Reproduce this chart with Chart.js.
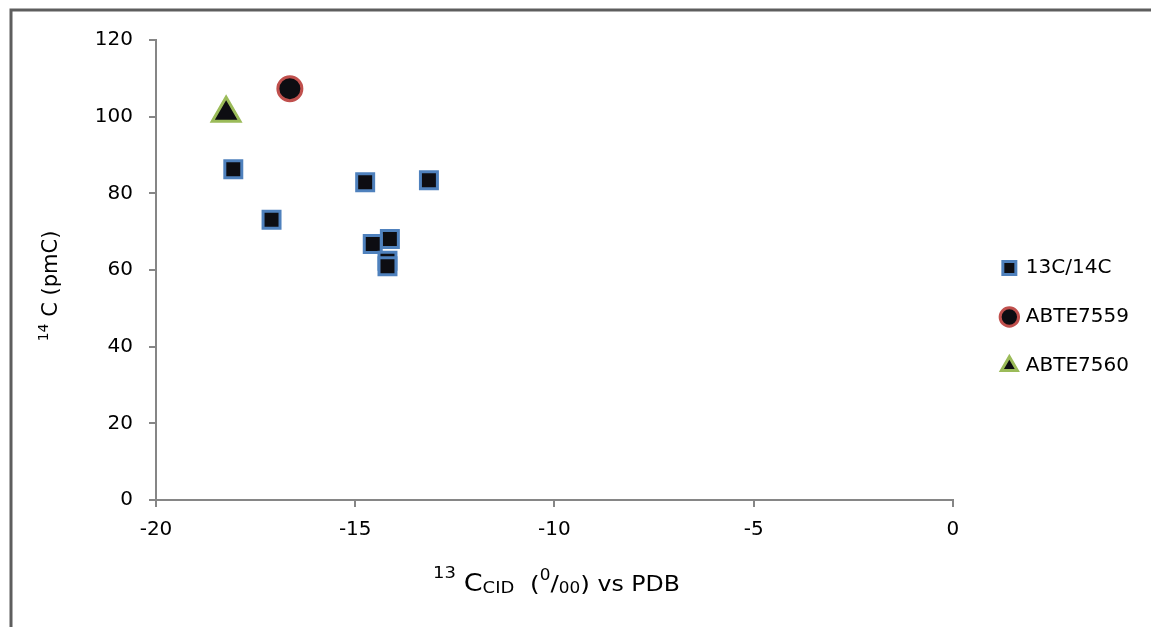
<!DOCTYPE html>
<html>
<head>
<meta charset="utf-8">
<script src="https://cdn.jsdelivr.net/npm/chart.js@4.4.1/dist/chart.umd.min.js"></script>
<style>
html, body { margin: 0; padding: 0; background: #fff; }
#wrap { position: relative; width: 1151px; height: 627px; }
</style>
</head>
<body>
<div id="wrap"><canvas id="myChart" width="1151" height="627"></canvas></div>
<script>
// series names (legend)
var seriesNames = ['13C/14C', 'ABTE7559', 'ABTE7560'];

// 13C / 14C samples (x = d13C permil, y = 14C pmC)
var sampleX = [-18.06, -17.10, -14.75, -13.15, -14.13, -14.56, -14.19, -14.19];
var sampleY = [86.3, 73.1, 82.9, 83.4, 68.1, 66.8, 62.4, 61.0];

// single wells
var abte7559X = [-16.64];
var abte7559Y = [107.3];
var abte7560X = [-18.24];
var abte7560Y = [100.9];

// axis ranges / ticks
var xTicks = [-20, -15, -10, -5, 0];
var yTicks = [0, 20, 40, 60, 80, 100, 120];

var fontFam = 'DejaVu Sans';
var axisGray = '#868686';

function toPoints(xs, ys) {
    var pts = [];
    for (var i = 0; i < xs.length; i++) {
        pts.push({x: xs[i], y: ys[i]});
    }
    return pts;
}

// draws a run of text pieces [text, size, dy] centred on 0, stretched to fit `want` px
function drawRich(ctx, parts, want) {
    var total = 0;
    parts.forEach(function(p) {
        ctx.font = p[1] + 'px "' + fontFam + '"';
        p.w = ctx.measureText(p[0]).width;
        total += p.w;
    });
    var sx = want ? want / total : 1;
    ctx.scale(sx, 1);
    var x = -total / 2;
    ctx.textAlign = 'left';
    ctx.textBaseline = 'alphabetic';
    parts.forEach(function(p) {
        ctx.font = p[1] + 'px "' + fontFam + '"';
        ctx.fillText(p[0], x, p[2]);
        x += p.w;
    });
}

var framePlugin = {
    id: 'frame',
    beforeDraw: function(chart) {
        var ctx = chart.ctx;
        ctx.save();
        ctx.fillStyle = '#fff';
        ctx.fillRect(0, 0, chart.width, chart.height);
        ctx.strokeStyle = '#5e5e5e';
        ctx.lineWidth = 3;
        ctx.beginPath();
        ctx.moveTo(11, chart.height);
        ctx.lineTo(11, 10);
        ctx.lineTo(chart.width, 10);
        ctx.stroke();
        ctx.restore();
    },
    afterDraw: function(chart) {
        var ctx = chart.ctx;
        var area = chart.chartArea;
        ctx.fillStyle = '#000';
        // x axis title
        ctx.save();
        ctx.translate((area.left + area.right) / 2 + 2, 591);
        drawRich(ctx, [
            ['13', 16, -13],
            [' ', 22, 0],
            ['C', 24, 0],
            ['CID', 16, 2],
            ['  (', 22, 0],
            ['0', 15, -11],
            ['/', 22, 0],
            ['00', 15, 2],
            [')', 22, 0],
            [' vs PDB', 21, 0]
        ], 247);
        ctx.restore();
        // y axis title
        ctx.save();
        ctx.translate(57, 286);
        ctx.rotate(-Math.PI / 2);
        drawRich(ctx, [
            ['14', 14, -9],
            [' C (pmC)', 21, 0]
        ], 0);
        ctx.restore();
    }
};

ctx = document.getElementById('myChart').getContext('2d');
chart = new Chart(ctx, {
    type: 'scatter',
    data: {
        datasets: [{
            label: seriesNames[0],
            data: toPoints(sampleX, sampleY),
            pointStyle: 'rect',
            pointRadius: 12,
            pointHoverRadius: 12,
            backgroundColor: '#0d0d12',
            borderColor: '#4f81bd',
            borderWidth: 3
        }, {
            label: seriesNames[1],
            data: toPoints(abte7559X, abte7559Y),
            pointStyle: 'circle',
            pointRadius: 12,
            pointHoverRadius: 12,
            backgroundColor: '#0d0d12',
            borderColor: '#c0504d',
            borderWidth: 3
        }, {
            label: seriesNames[2],
            data: toPoints(abte7560X, abte7560Y),
            pointStyle: 'triangle',
            pointRadius: 16,
            pointHoverRadius: 16,
            backgroundColor: '#0d0d12',
            borderColor: '#9bbb59',
            borderWidth: 3
        }]
    },
    options: {
        responsive: false,
        animation: false,
        devicePixelRatio: 1,
        layout: {padding: {left: 0, top: 40, right: 12, bottom: 33}},
        plugins: {
            tooltip: {enabled: false},
            legend: {
                position: 'right',
                labels: {
                    usePointStyle: true,
                    boxWidth: 13,
                    boxHeight: 13,
                    padding: 29,
                    color: '#000',
                    font: {family: fontFam, size: 20}
                }
            }
        },
        scales: {
            x: {
                type: 'linear',
                min: xTicks[0],
                max: xTicks[xTicks.length - 1],
                afterBuildTicks: function(scale) {
                    scale.ticks = xTicks.map(function(v) { return {value: v}; });
                },
                afterFit: function(scale) { scale.height = 94; },
                border: {color: axisGray, width: 2},
                grid: {drawOnChartArea: false, drawTicks: true, tickLength: 7, color: axisGray, lineWidth: 2},
                ticks: {color: '#000', padding: 11, maxRotation: 0, font: {family: fontFam, size: 20}}
            },
            y: {
                type: 'linear',
                min: yTicks[0],
                max: yTicks[yTicks.length - 1],
                afterBuildTicks: function(scale) {
                    scale.ticks = yTicks.map(function(v) { return {value: v}; });
                },
                afterFit: function(scale) { scale.width = 156; },
                border: {color: axisGray, width: 2},
                grid: {drawOnChartArea: false, drawTicks: true, tickLength: 7, color: axisGray, lineWidth: 2},
                ticks: {color: '#000', padding: 16, font: {family: fontFam, size: 20}}
            },
            gap: {
                type: 'linear',
                position: 'right',
                display: true,
                afterFit: function(scale) { scale.width = 21; },
                border: {display: false},
                grid: {display: false},
                ticks: {display: false}
            }
        }
    },
    plugins: [framePlugin]
});
</script>
</body>
</html>
